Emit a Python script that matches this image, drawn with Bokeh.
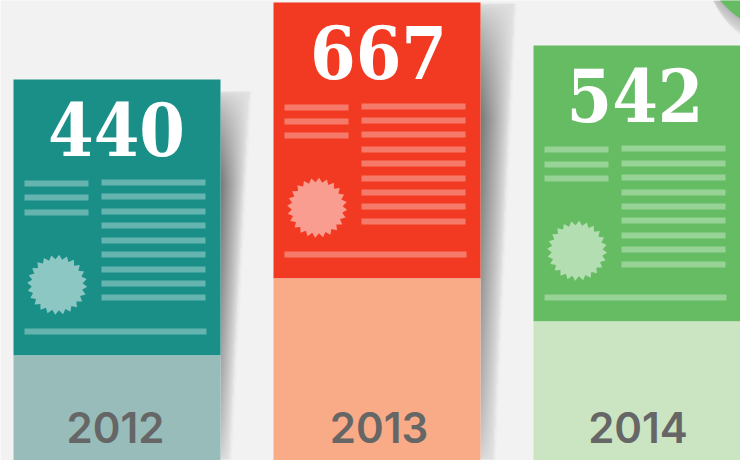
import numpy as np
from bokeh.core.properties import value
from bokeh.embed import file_html
from bokeh.models import Range1d
from bokeh.plotting import figure
from bokeh.resources import INLINE

years = [2012, 2013, 2014]
totals = [440, 667, 542]

W, H = 740, 460
STEP = 260.0              # px between columns
FIRST_CENTRE = 116.5
PX_PER_UNIT = (79.2 - 2.4) / (667 - 440)
END = 667 + 2.4 / PX_PER_UNIT
XS = years[0] - FIRST_CENTRE / STEP

p = figure(width=W, height=H, output_backend="svg", toolbar_location=None,
           x_range=Range1d(XS, XS + W / STEP), y_range=Range1d(END - H / PX_PER_UNIT, END),
           min_border=0, outline_line_color=None, background_fill_color="#f2f2f2",
           border_fill_color="#f2f2f2", x_axis_type=None, y_axis_type=None)
p.grid.visible = False

def X(px):
    return XS + np.asarray(px, dtype=float) / STEP
def Y(py):
    return END - np.asarray(py, dtype=float) / PX_PER_UNIT
def py_of(v):
    return (END - v) * PX_PER_UNIT

dark = ["#1a8f88", "#f23a22", "#65bc63"]
light = ["#97bcba", "#f9ab88", "#cbe5c3"]
BAR_W, PANEL_H = 207, 276
LEFT_ROWS = [[101, 115, 130], [102, 116, 130], [101, 116, 130]]
RIGHT_ROWS = [[100, 114, 129, 143, 158, 172, 187, 201, 215],
              [101, 115, 129, 144, 158, 173, 187, 201, 216],
              [100, 115, 129, 144, 158, 172, 187, 201, 216]]
NUM_DX = [-0.5, 1.5, -2]
YEAR_DX = [-1.5, 2, 1]

def shadow(x0, top, w_top, w_bottom, bottom=459):
    w = int(np.ceil(max(w_top, w_bottom))) + 1
    h = bottom - top
    arr = np.zeros((h, w, 4), dtype=np.uint8)
    for r in range(h):
        t = r / h
        edge = w_top + (w_bottom - w_top) * t
        pk = 0.25
        gy = (t / pk) ** 0.6 if t < pk else ((1 - t) / (1 - pk)) ** 0.5
        for c in range(w):
            cov = np.clip(edge - c, 0, 1)
            fd = max(0.0, 1 - (c + .5) / (edge - 3)) ** 0.85
            g = 226 - 106 * fd * gy
            if c + .5 > edge - 2:
                g = 236
            arr[r, c] = (int(g), int(g), int(g), int(255 * cov))
    view = arr[::-1].view(dtype=np.uint32).reshape(h, w).copy()
    p.image_rgba(image=[view], x=X(x0), y=Y(bottom), dw=w / STEP, dh=h / PX_PER_UNIT)

shadow(220, 91, 31, 11)
shadow(480, 3, 36, 15)

# the round green badge cut by the top right corner, with its shadow
cx, cy, r = 792, -60, 94
sx, sy = 798, -40
x1, y1 = 700, 45
yy, xx = np.mgrid[0:y1, x1:W] + 0.5
d_g = np.hypot(xx - cx, yy - cy)
d_s = np.hypot(xx - sx, yy - sy)
g = np.clip(185 + (d_g - r) * 3.2, 185, 232)
img = np.zeros(xx.shape + (4,), dtype=np.uint8)
img[..., 0] = img[..., 1] = img[..., 2] = g.astype(np.uint8)
img[..., 3] = (np.clip(r + 0.5 - d_s, 0, 1) * 255).astype(np.uint8)
view = img[::-1].view(dtype=np.uint32).reshape(xx.shape).copy()
p.image_rgba(image=[view], x=X(x1), y=Y(y1), dw=(W - x1) / STEP, dh=y1 / PX_PER_UNIT)
th = np.linspace(0, 2 * np.pi, 240)
p.patch(x=X(cx + r * np.cos(th)), y=Y(cy + r * np.sin(th)), fill_color="#65bc63", line_color=None)

for i, (yr, tot) in enumerate(zip(years, totals)):
    top_px = int(round(py_of(tot)))
    left_px = FIRST_CENTRE + i * STEP - BAR_W / 2
    xl, xr = X(left_px), X(left_px + BAR_W)
    p.quad(left=xl, right=xr, top=Y(top_px), bottom=Y(top_px + PANEL_H), fill_color=dark[i], line_color=None)
    p.quad(left=xl, right=xr, top=Y(top_px + PANEL_H), bottom=Y(H), fill_color=light[i], line_color=None)

    ll, lr, lt, lb = [], [], [], []
    def row(a, b, t):
        ll.append(float(X(left_px + a))); lr.append(float(X(left_px + b)))
        lt.append(float(Y(top_px + t))); lb.append(float(Y(top_px + t + 6)))
    for t in LEFT_ROWS[i]:
        row(11, 75, t)
    for t in RIGHT_ROWS[i]:
        row(88, 192, t)
    row(11, 193, 249)
    p.quad(left=ll, right=lr, top=lt, bottom=lb, fill_color="white", fill_alpha=0.33, line_color=None)

    n = 24
    ang = np.arange(2 * n) * np.pi / n + np.pi / n * 0.5
    rad = np.where(np.arange(2 * n) % 2 == 0, 30, 25.5)
    bx = left_px + 43.7 + rad * np.cos(ang)
    by = top_px + 205.3 + rad * np.sin(ang)
    p.patch(x=X(bx), y=Y(by), fill_color="white", fill_alpha=0.5, line_color=None)

    p.text(x=[yr], y=[Y(top_px + 78)], text=[str(tot)], text_align="center", text_baseline="alphabetic",
           x_offset=NUM_DX[i], y_offset=-29,
           text_color="white", text_font=value("DejaVu Serif Condensed"), text_font_style="bold", text_font_size="73px")
    p.text(x=[yr], y=[Y(441.5)], text=[str(yr)], text_align="center", text_baseline="alphabetic",
           x_offset=YEAR_DX[i], y_offset=-15,
           text_color="#666666", text_font=value("Inter SemiBold"), text_font_style="normal", text_font_size="42px")

open("out.html", "w").write(file_html(p, INLINE))
